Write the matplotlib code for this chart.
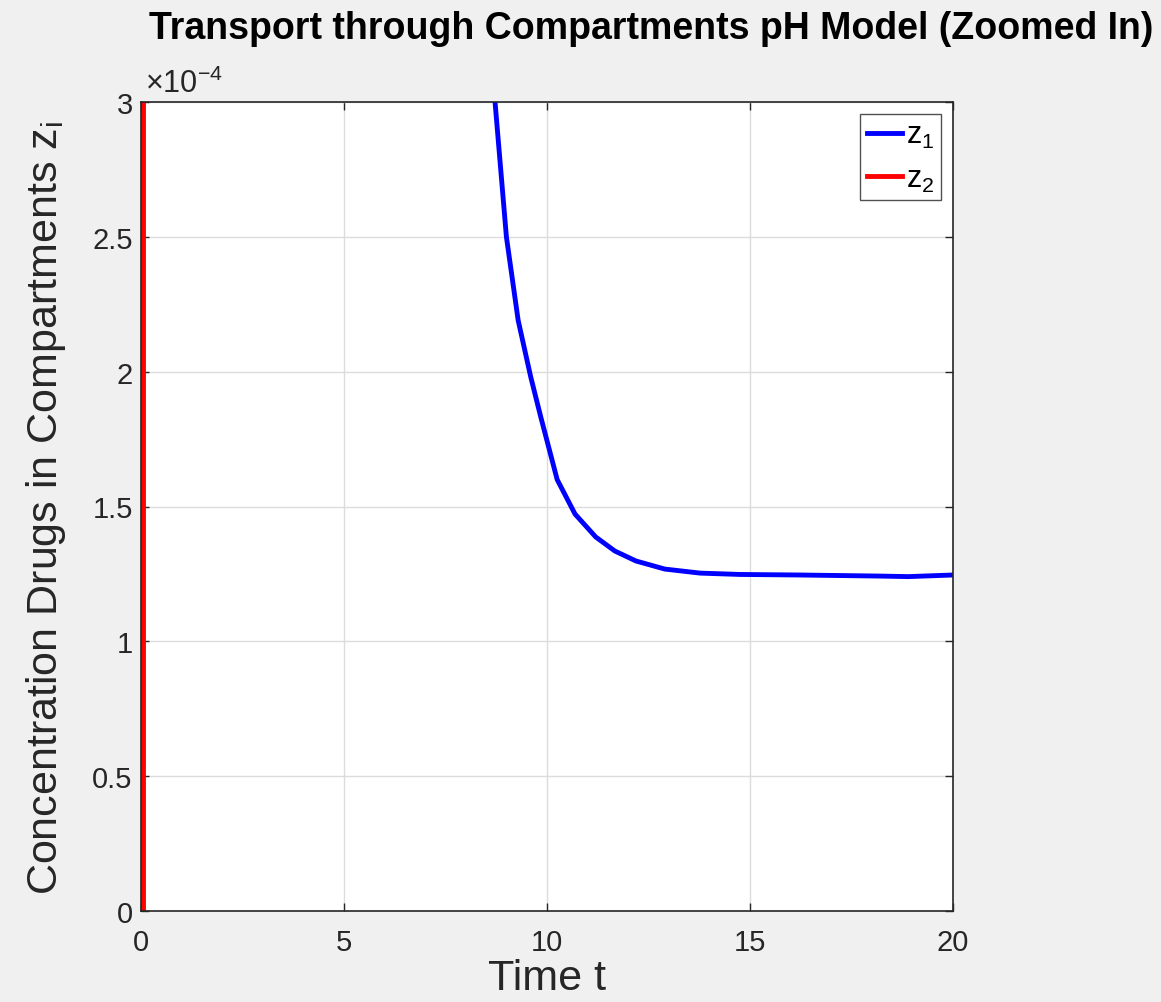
import numpy as np
import matplotlib.pyplot as plt
from matplotlib.ticker import FuncFormatter

# z1 concentration over time (only the part inside the zoom window matters)
t1 = [8.4, 8.72, 9.0, 9.29, 9.6, 9.85, 10.25, 10.69, 11.2, 11.67, 12.19,
      12.9, 13.77, 14.75, 16.2, 18.2, 18.9, 20.0]
z1 = [3.6e-4, 3.0e-4, 2.5e-4, 2.19e-4, 1.98e-4, 1.83e-4, 1.60e-4, 1.472e-4,
      1.387e-4, 1.335e-4, 1.298e-4, 1.268e-4, 1.253e-4, 1.248e-4, 1.246e-4,
      1.242e-4, 1.240e-4, 1.246e-4]

# z2 shoots straight up right at the start
t2 = [0.05, 0.05]
z2 = [0.0, 5e-4]

xticks = [0, 5, 10, 15, 20]
yticks = [0, 0.5e-4, 1e-4, 1.5e-4, 2e-4, 2.5e-4, 3e-4]

plt.rcParams['font.family'] = ['Liberation Sans', 'DejaVu Sans']
plt.rcParams['mathtext.fontset'] = 'custom'
plt.rcParams['mathtext.rm'] = 'Liberation Sans'
plt.rcParams['mathtext.it'] = 'Liberation Sans'

fig = plt.figure(figsize=(11.61, 10.03), dpi=100, facecolor='#f0f0f0')
ax = fig.add_axes([141/1161, 1 - 912/1003, (953-141)/1161, (912-103)/1003])

ax.plot(t1, z1, color='#0000ff', lw=3.5, label='z$_1$')
ax.plot(t2, z2, color='#ff0000', lw=3.5, label='z$_2$')

ax.set_xlim(0, 20)
ax.set_ylim(0, 3e-4)
ax.set_xticks(xticks)
ax.set_yticks(yticks)
ax.yaxis.set_major_formatter(FuncFormatter(lambda v, p: '%g' % round(v * 1e4, 4)))
ax.grid(True, color='#dcdcdc', lw=1)
ax.set_axisbelow(True)
ax.tick_params(direction='in', length=6, width=1, color='#262626',
               labelsize=21, labelcolor='#262626', top=True, right=True)
ax.tick_params(axis='x', pad=12)
ax.tick_params(axis='y', pad=6)
for s in ax.spines.values():
    s.set_color('#262626')
    s.set_linewidth(1.2)

ax.text(0.005, 1.004, r'$\times$10$^{-4}$', transform=ax.transAxes,
        fontsize=22, color='#262626', va='bottom', ha='left')

ax.set_xlabel('Time t', fontsize=31, color='#262626', labelpad=2)
ax.set_ylabel('Concentration Drugs in Compartments z$_{\\rm i}$', fontsize=31,
              color='#262626')
ax.yaxis.set_label_coords(-0.09, 0.5)

fig.text(651/1161, 1 - 29/1003, 'Transport through Compartments pH Model (Zoomed In)',
         fontsize=27, fontweight='bold', ha='center', va='center')

leg = ax.legend(loc='upper right', fontsize=22, frameon=True, fancybox=False,
                edgecolor='#262626', handlelength=1.15, handletextpad=0.15,
                borderpad=0.2, labelspacing=0.45, borderaxespad=0.4)
leg.get_frame().set_linewidth(1)

fig.savefig('out.png', dpi=100, facecolor=fig.get_facecolor())
